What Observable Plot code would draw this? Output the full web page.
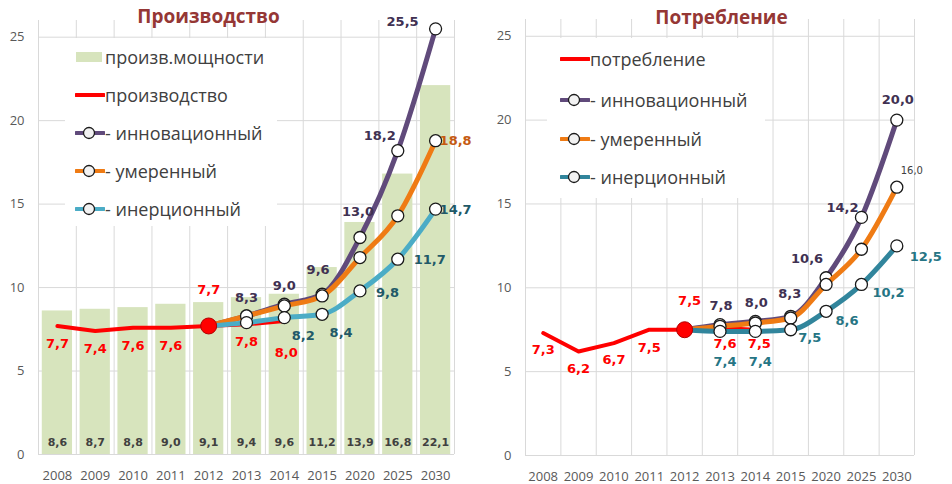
<!DOCTYPE html>
<html><head><meta charset="utf-8">
<script src="https://cdn.jsdelivr.net/npm/d3@7"></script>
<script src="https://cdn.jsdelivr.net/npm/@observablehq/plot@0.6"></script>
<style>
body{margin:0;background:#fff;font-family:"Open Sans",sans-serif;}
#wrap{position:relative;width:952px;height:484px;display:flex;overflow:hidden;}
#wrap > svg{flex:none;}
.legend{position:absolute;background:#fff;}
.row{position:absolute;display:flex;align-items:center;height:24px;font-size:18px;color:#404040;white-space:nowrap;font-family:"Open Sans",sans-serif;}
.row svg{flex:none;display:block;}
</style></head><body><div id="wrap"></div>
<script>
// ---- data ----
const years = ["2008","2009","2010","2011","2012","2013","2014","2015","2020","2025","2030"];
const capacity = [8.6, 8.7, 8.8, 9.0, 9.1, 9.4, 9.6, 11.2, 13.9, 16.8, 22.1];
const production = [7.7, 7.4, 7.6, 7.6, 7.7, 7.8, 8.0];          // 2008–2014
const prodInnovative = [7.7, 8.3, 9.0, 9.6, 13.0, 18.2, 25.5];    // 2012–2030
const prodModerate = [7.7, 8.3, 8.9, 9.5, 11.8, 14.3, 18.8];
const prodInertial = [7.7, 7.9, 8.2, 8.4, 9.8, 11.7, 14.7];
const consumption = [7.3, 6.2, 6.7, 7.5, 7.5, 7.6, 7.5];         // 2008–2014
const consInnovative = [7.5, 7.8, 8.0, 8.3, 10.6, 14.2, 20.0];    // 2012–2030
const consModerate = [7.5, 7.7, 7.9, 8.2, 10.2, 12.3, 16.0];
const consInertial = [7.5, 7.4, 7.4, 7.5, 8.6, 10.2, 12.5];
const yTicks = [0, 5, 10, 15, 20, 25];
const scenarioStart = "2012";
const titles = ["Производство", "Потребление"];
const legendLeft = ["произв.мощности", "производство", "- инновационный", "- умеренный", "- инерционный"];
const legendRight = ["потребление", "- инновационный", "- умеренный", "- инерционный"];

// ---- styling / placement ----
const RED = "#ff0000", PURPLE = "#604a7b", ORANGE = "#ef7b14", CYAN = "#4bacc6", TEAL = "#31859c", GREEN = "#d7e4bd", GRID = "#d9d9d9";
const LBL_PURPLE = "#403152", LBL_TEAL_L = "#215968", LBL_TEAL_R = "#267584", LBL_ORANGE = "#c55a11";

const fmt = v => d3.format(".1f")(v).replace(".", ",");
const toRows = (values, from = 0) => values.map((value, i) => ({year: years[from + i], value}));
const s0 = years.indexOf(scenarioStart);

function labelMarks(rows, offsets, style) {
  return rows.flatMap((r, i) => {
    const o = offsets[i];
    if (!o) return [];
    return [Plot.text([r], {x: "year", y: "value", text: d => fmt(d.value), dx: o[0], dy: o[1],
      textAnchor: o[2] || "middle", fontFamily: "DejaVu Sans", fontWeight: "bold", fontSize: 13, ...style})];
  });
}
function seriesMarks(rows, color, width) {
  return [
    Plot.line(rows, {x: "year", y: "value", stroke: color, strokeWidth: width, curve: "monotone-x", strokeLinejoin: "round", strokeLinecap: "round"}),
    Plot.dot(rows.slice(1), {x: "year", y: "value", r: 6, fill: "#fff", stroke: "#1a1a1a", strokeWidth: 1.3})
  ];
}

function chart(o) {
  const step = (476 - o.ml - o.mr) / years.length;
  const mainRows = toRows(o.main);
  return Plot.plot({
    width: 476, height: 484,
    marginLeft: o.ml, marginRight: o.mr, marginTop: o.mt, marginBottom: o.mb,
    style: {fontFamily: "Open Sans", fontSize: "13px", color: "#595959", background: "transparent", overflow: "visible"},
    x: {type: "band", domain: years, paddingInner: 0.2, paddingOuter: 0.1, round: false, tickSize: 0, tickPadding: 16, label: null},
    y: {domain: [0, 26], ticks: yTicks, tickSize: 0, tickPadding: 14, label: null},
    marks: [
      Plot.ruleY(yTicks, {stroke: GRID}),
      Plot.ruleX(years, {x: d => d, stroke: GRID, dx: -step / 2}),
      Plot.ruleX(years.slice(-1), {x: d => d, stroke: GRID, dx: step / 2}),
      ...(o.bars ? [
        Plot.barY(toRows(o.bars), {x: "year", y: "value", fill: GREEN}),
        Plot.text(toRows(o.bars), {x: "year", y: 0, text: d => fmt(d.value), dy: -12, fontFamily: "DejaVu Sans", fontWeight: "bold", fontSize: 11, fill: "#404040"})
      ] : []),
      Plot.line(mainRows, {x: "year", y: "value", stroke: RED, strokeWidth: 4, curve: "linear", strokeLinejoin: "round", strokeLinecap: "round"}),
      ...seriesMarks(toRows(o.innov, s0), PURPLE, 5),
      ...seriesMarks(toRows(o.moder, s0), ORANGE, 5),
      ...seriesMarks(toRows(o.inert, s0), o.inertColor, 5),
      Plot.dot(mainRows.filter(d => d.year === scenarioStart), {x: "year", y: "value", r: 8, fill: RED, stroke: "#b00000", strokeWidth: 1}),
      ...labelMarks(mainRows, o.mainOff, {fill: RED}),
      ...labelMarks(toRows(o.innov, s0), o.innovOff, {fill: LBL_PURPLE}),
      ...labelMarks(toRows(o.moder, s0), o.moderOff, o.moderStyle),
      ...labelMarks(toRows(o.inert, s0), o.inertOff, {fill: o.inertLabel}),
      Plot.text([o.title], {text: d => d, frameAnchor: "top", lineAnchor: "middle", dx: o.tdx, dy: o.tdy, fontFamily: "Open Sans", fontWeight: "bold", fontSize: 19, fill: "#953735"})
    ]
  });
}

const left = chart({
  ml: 38, mr: 22, mt: 20, mb: 30, title: titles[0], tdx: -38, tdy: -4,
  bars: capacity, main: production, innov: prodInnovative, moder: prodModerate, inert: prodInertial,
  inertColor: CYAN, inertLabel: LBL_TEAL_L,
  mainOff: [[0, 18], [0, 18], [0, 18], [0, 18], [0, -36], [0, 18], [2, 32]],
  innovOff: [null, [0, -18], [0, -18], [-4, -24], [-2, -26], [-18, -15], [-33, -7]],
  moderOff: [null, null, null, null, null, null, [4, 0, "start"]],
  moderStyle: {fill: LBL_ORANGE},
  inertOff: [null, null, [19, 18], [19, 19], [16, 2, "start"], [16, 1, "start"], [4, 1, "start"]]
});
const right = chart({
  ml: 49, mr: 38, mt: 19, mb: 29, title: titles[1], tdx: 1.5, tdy: -2,
  bars: null, main: consumption, innov: consInnovative, moder: consModerate, inert: consInertial,
  inertColor: TEAL, inertLabel: LBL_TEAL_R,
  mainOff: [[0, 17], [0, 17], [0, 17], [0, 18], [5, -29], [5, 16], [4, 14]],
  innovOff: [null, [1, -19], [1, -19], [-1, -22], [-19, -19], [-19, -10], [1, -20]],
  moderOff: [null, null, null, null, null, null, [15, -16]],
  moderStyle: {fill: "#404040", fontWeight: "normal", fontSize: 10},
  inertOff: [null, [5, 30], [5, 30], [19, 8], [21, 10], [27, 8], [29, 11]]
});
const wrap = document.getElementById("wrap");
wrap.append(left, right);

// ---- legends (HTML overlay) ----
function swatch(kind, color) {
  if (kind === "bar") return `<svg width="30" height="14"><rect x="1" y="2" width="26" height="10" fill="${GREEN}"/></svg>`;
  if (kind === "line") return `<svg width="30" height="14"><line x1="1" x2="29" y1="7" y2="7" stroke="${color}" stroke-width="4" stroke-linecap="round"/></svg>`;
  return `<svg width="30" height="14"><line x1="1" x2="29" y1="7" y2="7" stroke="${color}" stroke-width="4" stroke-linecap="round"/><circle cx="14" cy="7" r="5.5" fill="#f2f2f2" stroke="#1a1a1a" stroke-width="1.3"/></svg>`;
}
function legend(box, swLeft, centers, labels, kinds) {
  const div = document.createElement("div");
  div.className = "legend";
  Object.assign(div.style, {left: box[0] + "px", top: box[1] + "px", width: box[2] + "px", height: box[3] + "px"});
  labels.forEach((t, i) => {
    const r = document.createElement("div");
    r.className = "row";
    r.style.left = (swLeft - box[0]) + "px";
    r.style.top = (centers[i] - box[1] - 12) + "px";
    r.innerHTML = swatch(kinds[i][0], kinds[i][1]) + `<span>${t}</span>`;
    div.append(r);
  });
  wrap.append(div);
}
legend([65, 38, 212, 188], 75, [57, 95, 133, 171, 209], legendLeft,
  [["bar"], ["line", RED], ["dot", PURPLE], ["dot", ORANGE], ["dot", CYAN]]);
legend([547, 38, 218, 160], 560, [59, 100, 139, 177], legendRight,
  [["line", RED], ["dot", PURPLE], ["dot", ORANGE], ["dot", TEAL]]);
</script></body></html>
